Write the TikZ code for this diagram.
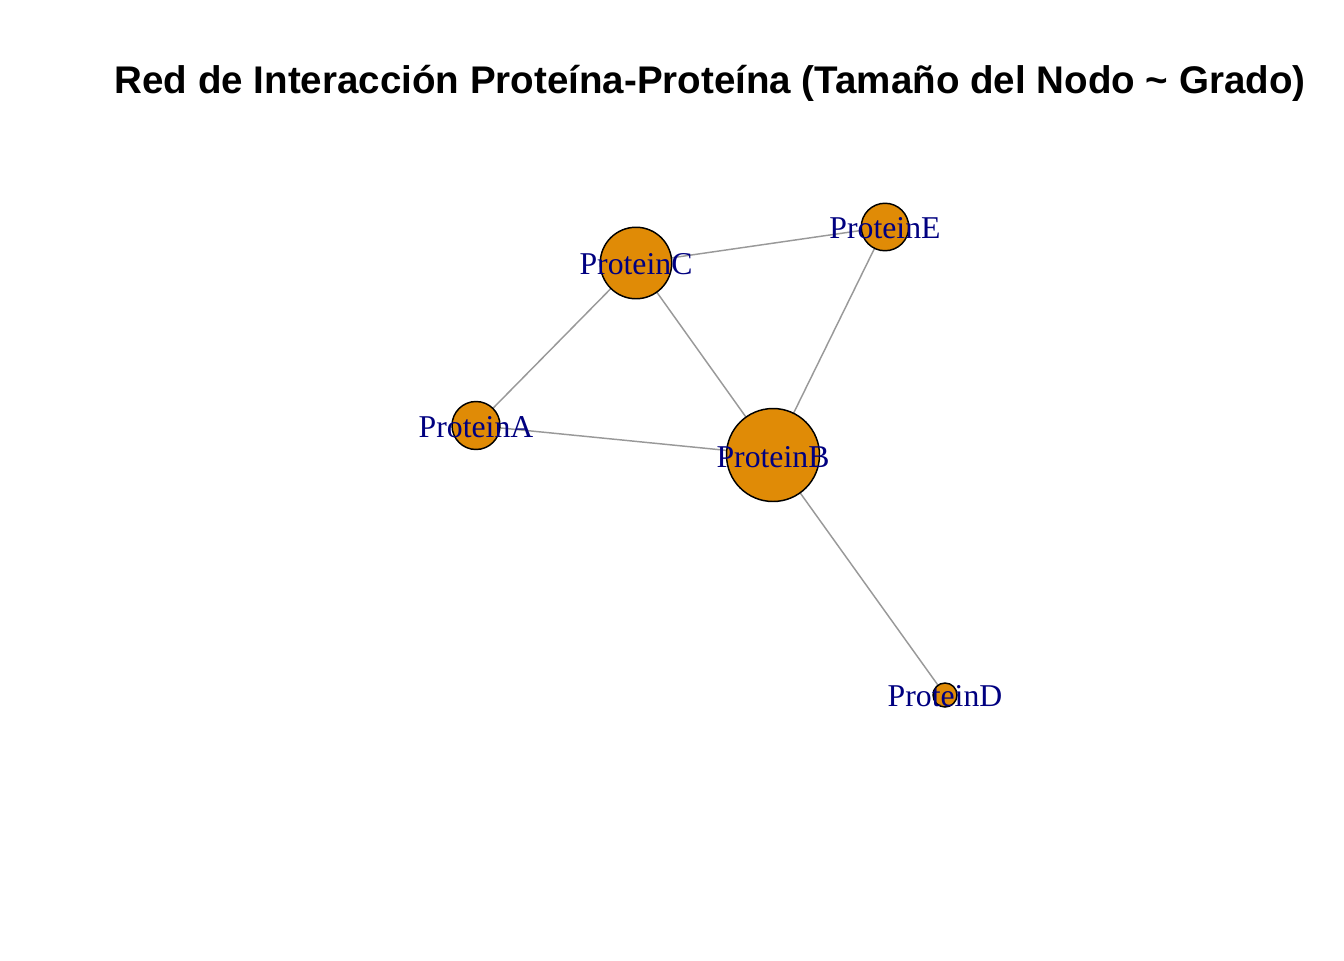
\documentclass[tikz,border=0pt]{standalone}
\usepackage{fontspec}
\setmainfont{Liberation Serif}
\newfontfamily\titlefont{Liberation Sans}
\usetikzlibrary{backgrounds}
\definecolor{nodefill}{RGB}{224,139,6}
\definecolor{edgegray}{RGB}{153,153,153}
\definecolor{labelnavy}{RGB}{0,0,128}
\tikzset{
  prot/.style={circle,draw=black,fill=nodefill,line width=1.1pt,inner sep=0pt,minimum size=#1},
  edge/.style={draw=edgegray,line width=1.1pt},
  plabel/.style={anchor=base,text=labelnavy,font=\fontsize{23.8pt}{26pt}\selectfont,inner sep=0pt},
}
\begin{document}
\begin{tikzpicture}[x=0.75pt,y=-0.75pt]
\useasboundingbox (0,0) rectangle (1344,960);
\node[anchor=base,inner sep=0pt,font=\titlefont\bfseries\fontsize{28.9pt}{32pt}\selectfont] (title) at (710,93) {Red de Interacción Proteína-Proteína (Tamaño del Nodo \textasciitilde{} Grado)};
\node[prot=71.5*0.75pt] (C) at (636,263) {};
\node[prot=47.5*0.75pt] (E) at (885,227) {};
\node[prot=48*0.75pt] (A) at (476,425.5) {};
\node[prot=93*0.75pt] (B) at (773,455) {};
\node[prot=24*0.75pt] (D) at (945,695) {};
\begin{scope}[on background layer]
\draw[edge] (C.center) -- (E.center);
\draw[edge] (C.center) -- (A.center);
\draw[edge] (C.center) -- (B.center);
\draw[edge] (E.center) -- (B.center);
\draw[edge] (A.center) -- (B.center);
\draw[edge] (B.center) -- (D.center);
\end{scope}
\node[plabel] (lC) at (636,274.5) {ProteinC};
\node[plabel] (lE) at (885,238.5) {ProteinE};
\node[plabel] (lA) at (476,437) {ProteinA};
\node[plabel] (lB) at (773,467) {ProteinB};
\node[plabel] (lD) at (945,706.5) {ProteinD};
\end{tikzpicture}
\end{document}
